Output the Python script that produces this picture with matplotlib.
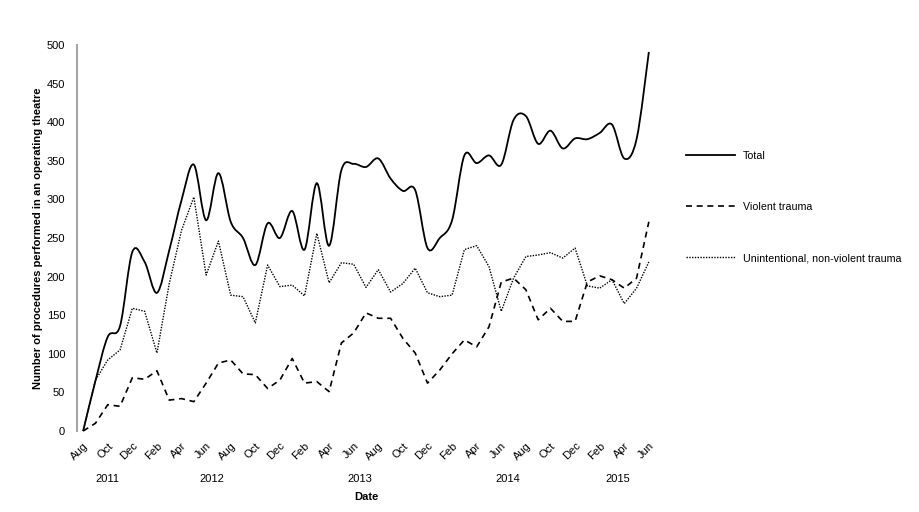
import numpy as np
import pandas as pd
import matplotlib
matplotlib.use('Agg')
import matplotlib.pyplot as plt
from matplotlib.path import Path
from matplotlib.patches import PathPatch
from matplotlib.lines import Line2D

plt.rcParams['font.family'] = ['Liberation Sans', 'DejaVu Sans']

# monthly counts, Aug 2011 .. Jun 2015
months = pd.date_range('2011-08-01', '2015-06-01', freq='MS')
total = [0, 65, 122, 136, 232, 219, 179, 234, 299, 345, 273, 334, 271, 250, 215, 269,
         250, 285, 235, 321, 240, 338, 346, 342, 353, 327, 311, 312, 237, 250, 273, 357,
         347, 357, 345, 403, 408, 372, 389, 366, 379, 378, 386, 397, 353, 378, 491]
violent = [0, 10, 34, 32, 69, 67, 78, 40, 42, 38, 62, 88, 92, 74, 73, 55,
           66, 94, 62, 64, 51, 114, 127, 153, 146, 146, 120, 101, 62, 79, 100, 118,
           109, 135, 193, 198, 183, 144, 159, 142, 142, 193, 201, 196, 185, 198, 271]
unintentional = [0, 66, 92, 105, 159, 155, 101, 191, 260, 303, 202, 246, 176, 174, 140, 215,
                 187, 189, 175, 256, 192, 218, 216, 186, 209, 180, 191, 211, 179, 174, 176, 235,
                 240, 213, 155, 198, 226, 228, 231, 224, 237, 188, 185, 196, 165, 185, 219]
series_names = ['Total', 'Violent trauma', 'Unintentional, non-violent trauma']

x = np.arange(len(months))
FS = 8


def smooth_path(xs, ys):
    # excel-style smoothed line: cubic bezier through every point
    pts = np.column_stack([xs, ys]).astype(float)
    n = len(pts)
    verts = [pts[0]]
    codes = [Path.MOVETO]
    for i in range(n - 1):
        p0 = pts[max(i - 1, 0)]
        p1 = pts[i]
        p2 = pts[i + 1]
        p3 = pts[min(i + 2, n - 1)]
        verts += [p1 + (p2 - p0) / 6, p2 - (p3 - p1) / 6, p2]
        codes += [Path.CURVE4] * 3
    return Path(verts, codes)


fig = plt.figure(figsize=(9.19, 5.12), dpi=100)
ax = fig.add_axes([77 / 919, 1 - 431 / 512, 578 / 919, 386 / 512])

ax.add_patch(PathPatch(smooth_path(x, total), fill=False, edgecolor='black', lw=1.3, clip_on=False))
ax.plot(x, violent, color='black', lw=1.2, dashes=(3.6, 2.8), clip_on=False)
ax.plot(x, unintentional, color='black', lw=1.0, dashes=(1, 1), clip_on=False)

ax.set_xlim(-0.5, len(months) - 0.5)
ax.set_ylim(0, 500)
ax.set_yticks(range(0, 501, 50))
ax.set_xticks(x[::2])
ax.set_xticklabels([m.strftime('%b') for m in months[::2]], rotation=45, ha='right',
                   rotation_mode='anchor', fontsize=FS)
ax.tick_params(axis='both', length=0, labelsize=FS)
ax.tick_params(axis='y', pad=8.5)
ax.tick_params(axis='x', pad=7)

for s in ['top', 'right', 'bottom']:
    ax.spines[s].set_visible(False)
ax.spines['left'].set_color('#a6a6a6')
ax.spines['left'].set_linewidth(1.5)

# year labels centred under each year's months
trans = ax.get_xaxis_transform()
for yr in sorted(set(months.year)):
    idx = x[months.year == yr]
    ax.text(idx.mean(), -0.124, str(yr), transform=trans, ha='center', va='center', fontsize=FS)
ax.text((x[0] + x[-1]) / 2, -0.171, 'Date', transform=trans, ha='center', va='center',
        fontsize=FS, fontweight='bold')

ax.set_ylabel('Number of procedures performed in an operating theatre', fontsize=FS, fontweight='bold')
ax.yaxis.set_label_coords(-0.058, 0.5)

handles = [Line2D([], [], color='black', lw=1.3),
           Line2D([], [], color='black', lw=1.2, dashes=(3.6, 2.8)),
           Line2D([], [], color='black', lw=1.0, dashes=(1, 1))]
ax.legend(handles, series_names, loc='center left', bbox_to_anchor=(686 / 919, 1 - 207 / 512),
          bbox_transform=fig.transFigure, frameon=False, fontsize=7.7, handlelength=4.6,
          handletextpad=0.75, labelspacing=3.85, borderpad=0, borderaxespad=0)

fig.savefig('out.png', dpi=100)
